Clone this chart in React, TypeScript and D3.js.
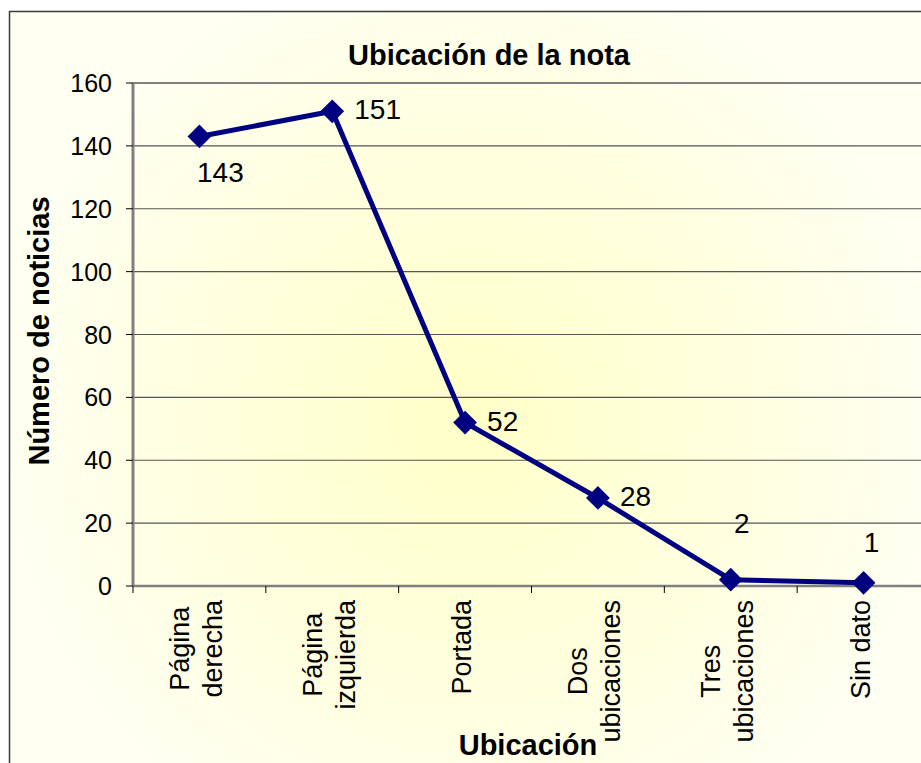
import * as d3 from 'd3';
import React, { useEffect, useRef } from 'react';

const categories = [
    ['Página', 'derecha'],
    ['Página', 'izquierda'],
    ['Portada'],
    ['Dos', 'ubicaciones'],
    ['Tres', 'ubicaciones'],
    ['Sin dato'],
];
const values = [143, 151, 52, 28, 2, 1];
const yTicks = [0, 20, 40, 60, 80, 100, 120, 140, 160];
// where each data label sits relative to its point: dx, dy, anchor
const labelOffsets: [number, number, string][] = [
    [21, 46, 'middle'],
    [22, 8, 'start'],
    [22, 8, 'start'],
    [22, 8, 'start'],
    [11, -47, 'middle'],
    [8, -31, 'middle'],
];

const W = 921;
const H = 763;
const FONT = "'Liberation Sans', Arial, sans-serif";

function App() {
    const ref = useRef<SVGSVGElement>(null);

    useEffect(() => {
        const svg = d3.select(ref.current);
        svg.selectAll('*').remove();

        const left = 133, right = 930, top = 83, bottom = 586;

        const x = d3.scaleBand<number>()
            .domain(d3.range(categories.length))
            .range([left, right]);
        const y = d3.scaleLinear().domain([0, 160]).range([bottom, top]);
        const cx = (i: number) => (x(i) as number) + x.bandwidth() / 2;

        // fondo con degradado
        const defs = svg.append('defs');
        const grad = defs.append('radialGradient')
            .attr('id', 'bg')
            .attr('gradientUnits', 'userSpaceOnUse')
            .attr('cx', 470).attr('cy', 420).attr('r', 470);
        grad.append('stop').attr('offset', 0).attr('stop-color', '#FFFFC8');
        grad.append('stop').attr('offset', 0.6).attr('stop-color', '#FFFFE0');
        grad.append('stop').attr('offset', 1).attr('stop-color', '#FFFFF2');

        svg.append('rect')
            .attr('x', 9.5).attr('y', 11.5)
            .attr('width', W).attr('height', H)
            .attr('fill', 'url(#bg)')
            .attr('stroke', '#3a3a3a')
            .attr('stroke-width', 1.5);

        const g = svg.append('g');

        // líneas de la cuadrícula
        g.selectAll('line.grid')
            .data(yTicks.filter(t => t > 0))
            .enter()
            .append('line')
            .attr('x1', left).attr('x2', W + 10)
            .attr('y1', d => y(d)).attr('y2', d => y(d))
            .attr('stroke', d => d === 160 ? '#808080' : '#555')
            .attr('stroke-width', d => d === 160 ? 2 : 1.2);

        // eje Y
        g.append('line')
            .attr('x1', left).attr('x2', left)
            .attr('y1', top).attr('y2', bottom)
            .attr('stroke', '#808080').attr('stroke-width', 3);
        g.selectAll('line.ytick')
            .data(yTicks)
            .enter()
            .append('line')
            .attr('x1', left - 7).attr('x2', left)
            .attr('y1', d => y(d)).attr('y2', d => y(d))
            .attr('stroke', '#000').attr('stroke-width', 1);
        g.selectAll('text.ytick')
            .data(yTicks)
            .enter()
            .append('text')
            .attr('x', 112)
            .attr('y', d => y(d) + 9)
            .attr('text-anchor', 'end')
            .style('font-family', FONT)
            .style('font-size', '25px')
            .text(d => d);

        // eje X
        g.append('line')
            .attr('x1', left).attr('x2', W + 10)
            .attr('y1', bottom).attr('y2', bottom)
            .attr('stroke', '#808080').attr('stroke-width', 2.5);
        g.selectAll('line.xtick')
            .data(d3.range(categories.length + 1))
            .enter()
            .append('line')
            .attr('x1', d => left + d * x.step()).attr('x2', d => left + d * x.step())
            .attr('y1', bottom).attr('y2', bottom + 7)
            .attr('stroke', '#000').attr('stroke-width', 1);

        // etiquetas de categoría (giradas)
        categories.forEach((lines, i) => {
            const lg = g.append('g');
            const texts = lines.map((t, j) => lg.append('text')
                .attr('x', 0)
                .attr('y', (j - (lines.length - 1) / 2) * 33 + 9)
                .attr('text-anchor', 'middle')
                .style('font-family', FONT)
                .style('font-size', '27px')
                .text(t));
            const maxLen = d3.max(texts, t => (t.node() as SVGTextElement).getComputedTextLength()) || 0;
            lg.attr('transform', `translate(${cx(i) - 3},${600 + maxLen / 2}) rotate(-90)`);
        });

        // línea de datos
        const line = d3.line<number>()
            .x((d, i) => cx(i))
            .y(d => y(d));
        g.append('path')
            .datum(values)
            .attr('d', line)
            .attr('fill', 'none')
            .attr('stroke', '#000080')
            .attr('stroke-width', 5)
            .attr('stroke-linejoin', 'round');

        g.selectAll('path.marker')
            .data(values)
            .enter()
            .append('path')
            .attr('d', d3.symbol(d3.symbolDiamond2, 360))
            .attr('transform', (d, i) => `translate(${cx(i)},${y(d)})`)
            .attr('fill', '#000080');

        g.selectAll('text.label')
            .data(values)
            .enter()
            .append('text')
            .attr('x', (d, i) => cx(i) + labelOffsets[i][0])
            .attr('y', (d, i) => y(d) + labelOffsets[i][1])
            .attr('text-anchor', (d, i) => labelOffsets[i][2])
            .style('font-family', FONT)
            .style('font-size', '28px')
            .text(d => d);

        // títulos
        svg.append('text')
            .attr('x', 489).attr('y', 65)
            .attr('text-anchor', 'middle')
            .style('font-family', FONT)
            .style('font-size', '29px')
            .style('font-weight', 'bold')
            .text('Ubicación de la nota');

        svg.append('text')
            .attr('x', 528).attr('y', 755)
            .attr('text-anchor', 'middle')
            .style('font-family', FONT)
            .style('font-size', '29px')
            .style('font-weight', 'bold')
            .text('Ubicación');

        svg.append('text')
            .attr('transform', 'translate(49,331) rotate(-90)')
            .attr('text-anchor', 'middle')
            .style('font-family', FONT)
            .style('font-size', '29px')
            .style('font-weight', 'bold')
            .text('Número de noticias');
    }, []);

    return (
        <svg ref={ref} width={W} height={H}
            style={{ position: 'absolute', left: 0, top: 0, display: 'block' }}></svg>
    );
}

export default App;
